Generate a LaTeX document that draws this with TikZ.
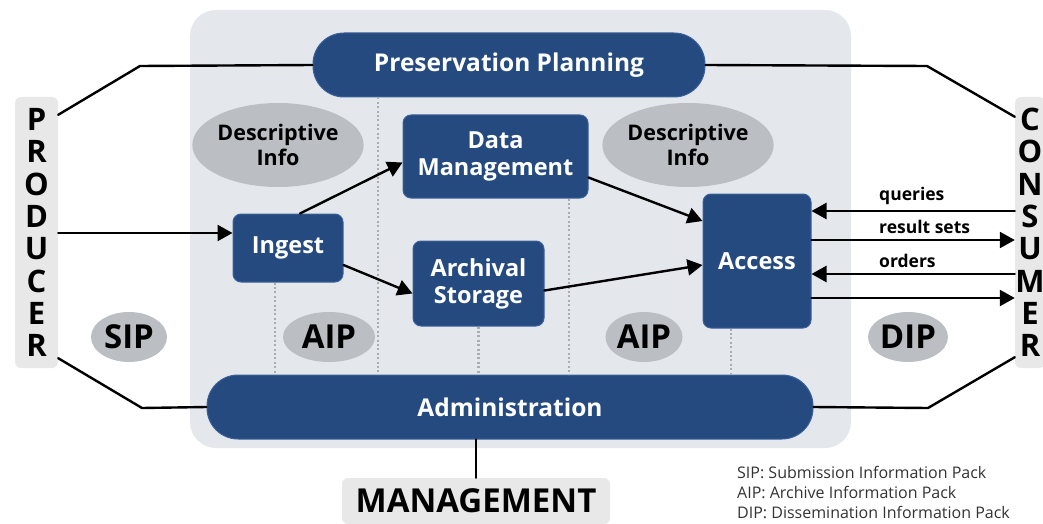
\documentclass[tikz,border=0pt]{standalone}
\usepackage{fontspec}
\setmainfont{Open Sans}
\usepackage{tikz}
\usetikzlibrary{arrows.meta}
\usetikzlibrary{shapes.geometric}
\definecolor{oaisblue}{HTML}{254A80}
\definecolor{oaisedge}{HTML}{3C619A}
\definecolor{oaisback}{HTML}{E4E8ED}
\definecolor{oaisgrey}{HTML}{BBBEC2}
\definecolor{sidegrey}{HTML}{E8E8E8}
\definecolor{legendtxt}{HTML}{333333}

\begin{document}
\begin{tikzpicture}[x=1pt,y=-1pt,line cap=round,line join=round,
  >={Triangle[length=15pt,width=16pt]},
  func/.style={fill=oaisblue,draw=oaisedge,line width=1pt,rounded corners=8pt,
    text=white,font=\bfseries\fontsize{23.5}{27}\selectfont,align=center,inner sep=0pt},
  pill/.style={fill=oaisblue,draw=oaisedge,line width=1pt,rounded corners=31pt,
    text=white,font=\bfseries\fontsize{24.5}{28}\selectfont,inner sep=0pt},
  blob/.style={ellipse,fill=oaisgrey,inner sep=0pt,font=\bfseries\fontsize{21.5}{25}\selectfont,align=center},
  pack/.style={blob,font=\bfseries\fontsize{33}{34}\selectfont},
  side/.style={fill=sidegrey,rounded corners=6pt,inner sep=0pt,align=center,
    font=\bfseries\fontsize{31}{32.3}\selectfont},
  link/.style={line width=2.4pt},
  flow/.style={line width=2.4pt,->},
  sep/.style={draw=gray!65,line width=2.2pt,dash pattern=on 2pt off 2.4pt,line cap=butt},
  lab/.style={font=\bfseries\fontsize{17.5}{20}\selectfont,anchor=south west,inner sep=0pt,yshift=5pt}]
\useasboundingbox (0,0) rectangle (1043,524);
\clip (0,0) rectangle (1043,524);

% archive
\fill[oaisback,rounded corners=26pt] (190,10) rectangle (851,448);

\node[pill,minimum width=392pt,minimum height=64pt] (pp) at (509,65) {Preservation Planning};
\node[pill,minimum width=606pt,minimum height=64pt] (adm) at (510,407) {Administration};
\node[func,minimum width=185pt,minimum height=83pt] (dm) at (495.5,156.5) {Data\\Management};
\node[func,minimum width=110pt,minimum height=68pt] (ingest) at (288,248) {Ingest};
\node[func,minimum width=131pt,minimum height=85pt] (as) at (478.5,283.5) {Archival\\Storage};
\node[func,minimum width=108pt,minimum height=134pt] (access) at (757,261) {Access};

\node[blob,minimum width=143pt,minimum height=84pt] (info1) at (278,145) {Descriptive\\Info};
\node[blob,minimum width=143pt,minimum height=84pt] (info2) at (688,145) {Descriptive\\Info};
\node[pack,minimum width=76pt,minimum height=50pt] (sip) at (129,337) {SIP};
\node[pack,minimum width=92pt,minimum height=50pt] (aip1) at (329,337) {AIP};
\node[pack,minimum width=77pt,minimum height=50pt] (aip2) at (644,337) {AIP};
\node[pack,minimum width=80pt,minimum height=50pt] (dip) at (908,337) {DIP};

% outside entities
\node[side,minimum width=43pt,minimum height=271pt] (producer) at (36.5,232.5) {P\\R\\O\\D\\U\\C\\E\\R};
\node[side,minimum width=30pt,minimum height=271pt] (consumer) at (1030,232.5) {C\\O\\N\\S\\U\\M\\E\\R};
\node[fill=sidegrey,rounded corners=6pt,minimum width=268pt,minimum height=46pt,inner sep=0pt,
  font=\bfseries\fontsize{33}{34}\selectfont] (mgmt) at (476,501) {MANAGEMENT};

% dotted separators
\draw[sep] (pp.south -| 378,0) -- (adm.north -| 378,0);
\draw[sep] ([xshift=-13pt]ingest.south) -- (adm.north -| 275,0);
\draw[sep] (as.south) -- (adm.north -| as.south);
\draw[sep] (dm.south -| 569,0) -- (adm.north -| 569,0);
\draw[sep] ([xshift=-26pt]access.south) -- (adm.north -| 731,0);

% management links
\coordinate (k1) at (140,66);
\coordinate (k2) at (927,66);
\coordinate (k3) at (142,408);
\coordinate (k4) at (928,408);
\draw[link] ([yshift=-18pt]producer.north east) -- (k1) -- (pp.west);
\draw[link] (pp.east) -- (k2) -- ([yshift=-20pt]consumer.north west);
\draw[link] ([yshift=10pt]producer.south east) -- (k3) -- (adm.west);
\draw[link] (adm.east) -- (k4) -- ([yshift=11pt]consumer.south west);
\draw[link] (mgmt.north |- adm.south) -- (mgmt.north);

% flows
\draw[flow] ([yshift=15pt]ingest.west -| producer.east) -- ([yshift=15pt]ingest.west);
\draw[flow] ([xshift=12pt]ingest.north) -- ([yshift=-6pt]dm.west);
\draw[flow] ([yshift=-17pt]ingest.east) -- ([yshift=-10pt]as.west);
\draw[flow] ([yshift=-21pt]dm.east) -- ([yshift=40pt]access.west);
\draw[flow] ([yshift=-7pt]as.east) -- ([yshift=-4pt]access.west);

\draw[flow] ([yshift=50pt]access.east -| consumer.west) -- node[lab,pos=0.673]{queries} ([yshift=50pt]access.east);
\draw[flow] ([yshift=21pt]access.east) -- node[lab,pos=0.327]{result sets} ([yshift=21pt]access.east -| consumer.west);
\draw[flow] ([yshift=-13pt]access.east -| consumer.west) -- node[lab,pos=0.673]{orders} ([yshift=-13pt]access.east);
\draw[flow] ([yshift=-37pt]access.east) -- ([yshift=-37pt]access.east -| consumer.west);

% legend
\node[anchor=north west,align=left,text=legendtxt,inner sep=0pt,
  font=\fontsize{16}{20}\selectfont] (legend) at (737,466)
  {SIP: Submission Information Pack\\AIP: Archive Information Pack\\DIP: Dissemination Information Pack};
\end{tikzpicture}
\end{document}
